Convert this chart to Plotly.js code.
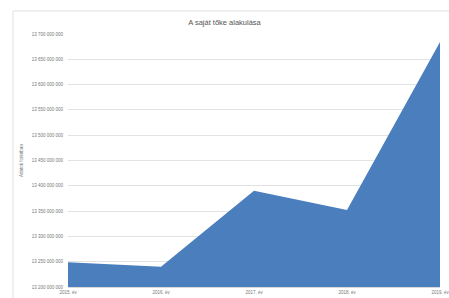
<!DOCTYPE html>
<html><head><meta charset="utf-8">
<script src="https://cdn.plot.ly/plotly-3.0.1.min.js"></script>
<style>html,body{margin:0;padding:0;background:#fff;}#c{width:449px;height:298px;}</style>
</head><body><div id="c"></div>
<script>
var years = ["2015. év", "2016. év", "2017. év", "2018. év", "2019. év"];
var equity = [13249000000, 13240000000, 13390000000, 13352000000, 13684000000];
var tickVals = [13200000000,13250000000,13300000000,13350000000,13400000000,13450000000,13500000000,13550000000,13600000000,13650000000,13700000000];
var tickText = ["13 200 000 000","13 250 000 000","13 300 000 000","13 350 000 000","13 400 000 000","13 450 000 000","13 500 000 000","13 550 000 000","13 600 000 000","13 650 000 000","13 700 000 000"];

var trace = {
  x: years, y: equity, type: 'scatter', mode: 'lines',
  fill: 'tozeroy', fillcolor: '#4a7ebd', line: {color: '#4a7ebd', width: 0},
  hoverinfo: 'skip'
};
var layout = {
  width: 449, height: 298,
  margin: {l: 68, r: 9, t: 34, b: 11},
  paper_bgcolor: '#fff', plot_bgcolor: '#fff',
  showlegend: false,
  font: {family: 'Liberation Sans, Arial, sans-serif', color: '#777'},
  title: {text: 'A saját tőke alakulása', x: 0.5, xanchor: 'center', y: 0.925, yanchor: 'middle',
          font: {size: 7.5, color: '#555'}},
  xaxis: {type: 'category', range: [0, 4], showgrid: false, zeroline: false,
          showline: true, linecolor: '#d9d9d9', linewidth: 1,
          tickfont: {size: 4.5, color: '#777'}, ticks: '', ticklen: 0, ticklabelstandoff: 1},
  yaxis: {range: [13200000000, 13700000000], tickvals: tickVals, ticktext: tickText,
          showgrid: true, gridcolor: '#e3e3e3', gridwidth: 1, zeroline: false,
          tickfont: {size: 4.5, color: '#777'}, ticks: '', ticklabelstandoff: 4,
          title: {text: 'Adatok forintban', font: {size: 4.5, color: '#777'}, standoff: 8}},
  shapes: [{type: 'rect', xref: 'paper', yref: 'paper', x0: -0.148, x1: 1.1, y0: -0.1, y1: 1.091,
            line: {color: '#e0e0e0', width: 1}, fillcolor: 'rgba(0,0,0,0)', layer: 'below'}]
};
Plotly.newPlot('c', [trace], layout, {displayModeBar: false, staticPlot: true});
</script></body></html>
